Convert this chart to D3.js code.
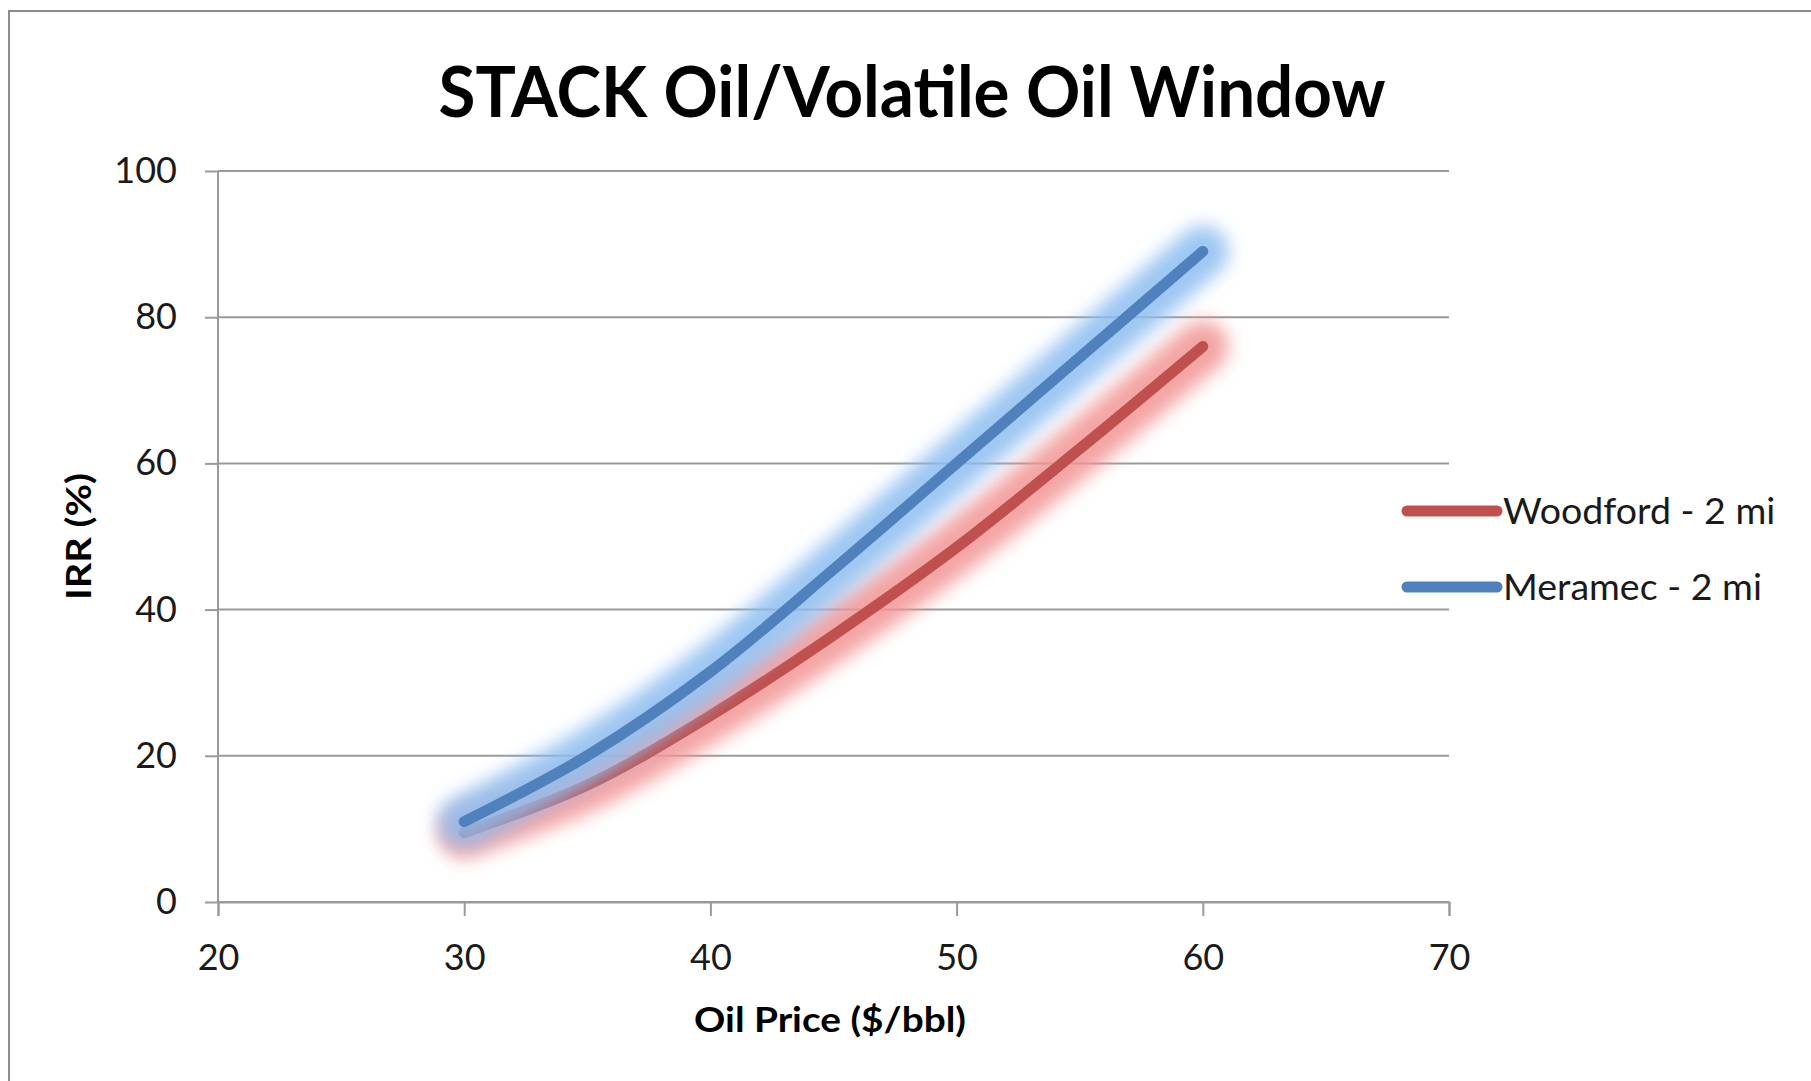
<!DOCTYPE html>
<html>
<head>
<meta charset="utf-8">
<script src="https://cdn.jsdelivr.net/npm/d3@7"></script>
<style>
  body { margin: 0; background: #fff; }
  svg { display: block; font-family: Lato, "Open Sans", sans-serif; }
</style>
</head>
<body>
<div id="viz"></div>
<script>
// data
const prices = [30, 35, 40, 45, 50, 55, 60];
const woodford = [9.5, 16, 25.5, 36.5, 48.5, 62, 76];
const meramec = [11, 20, 31.5, 45.5, 60, 74.5, 89];
const seriesNames = ['Woodford - 2 mi', 'Meramec - 2 mi'];
const xTickValues = [20, 30, 40, 50, 60, 70];
const yTickValues = [0, 20, 40, 60, 80, 100];

const canvasWidth = 1811;
const canvasHeight = 1081;
const margin = { top: 171, right: 362, bottom: 179, left: 218 };
const plotWidth = canvasWidth - margin.left - margin.right;
const plotHeight = canvasHeight - margin.top - margin.bottom;

const colors = { red: '#c0504d', blue: '#4f81bd', redGlow: '#f29494', blueGlow: '#8dbdf0' };

const xScale = d3.scaleLinear().domain([20, 70]).range([0, plotWidth]);
const yScale = d3.scaleLinear().domain([0, 100]).range([plotHeight, 0]);

const chart = d3.select('#viz')
  .append('svg')
  .attr('width', canvasWidth)
  .attr('height', canvasHeight);

const defs = chart.append('defs');
defs.append('filter')
  .attr('id', 'glow')
  .attr('filterUnits', 'userSpaceOnUse')
  .attr('x', -100).attr('y', -100)
  .attr('width', 1500).attr('height', 1100)
  .append('feGaussianBlur')
  .attr('stdDeviation', 9);

// outer frame
chart.append('rect')
  .attr('x', 9).attr('y', 11)
  .attr('width', canvasWidth + 20).attr('height', canvasHeight + 20)
  .attr('fill', 'none')
  .attr('stroke', '#8c8c8c')
  .attr('stroke-width', 2);

chart.append('text')
  .attr('x', 912).attr('y', 117)
  .attr('text-anchor', 'middle')
  .attr('font-size', 70)
  .attr('font-weight', 700)
  .attr('textLength', 947)
  .attr('lengthAdjust', 'spacingAndGlyphs')
  .text('STACK Oil/Volatile Oil Window');

const plot = chart.append('g')
  .attr('transform', `translate(${margin.left}, ${margin.top})`);

// gridlines
plot.append('g')
  .selectAll('line')
  .data(yTickValues)
  .enter().append('line')
    .attr('x1', 0).attr('x2', plotWidth)
    .attr('y1', (d) => yScale(d)).attr('y2', (d) => yScale(d))
    .attr('stroke', '#9a9a9a')
    .attr('stroke-width', 2);

const yAxis = plot.append('g')
  .attr('id', 'y-axis')
  .call(d3.axisLeft(yScale).tickValues(yTickValues).tickSize(13).tickPadding(28));

const xAxis = plot.append('g')
  .attr('id', 'x-axis')
  .attr('transform', `translate(0, ${plotHeight})`)
  .call(d3.axisBottom(xScale).tickValues(xTickValues).tickSize(14).tickPadding(28));

[yAxis, xAxis].forEach((ax) => {
  ax.select('.domain').attr('stroke', '#9a9a9a').attr('stroke-width', 2);
  ax.selectAll('.tick line').attr('stroke', '#9a9a9a').attr('stroke-width', 2);
  ax.selectAll('.tick text')
    .attr('font-family', 'Lato, sans-serif')
    .attr('font-size', 36)
    .attr('fill', '#1a1a1a');
});
yAxis.select('.domain').remove();
yAxis.append('line')
  .attr('x1', 0).attr('x2', 0).attr('y1', 0).attr('y2', plotHeight)
  .attr('stroke', '#9a9a9a').attr('stroke-width', 2);

const line = d3.line()
  .x((d) => xScale(d[0]))
  .y((d) => yScale(d[1]))
  .curve(d3.curveCatmullRom.alpha(0.5));

const series = [
  { name: seriesNames[0], values: woodford, color: colors.red, glow: colors.redGlow },
  { name: seriesNames[1], values: meramec, color: colors.blue, glow: colors.blueGlow }
];

series.forEach((s) => {
  const pts = prices.map((p, i) => [p, s.values[i]]);
  plot.append('path')
    .attr('d', line(pts))
    .attr('fill', 'none')
    .attr('stroke', s.glow)
    .attr('stroke-width', 52)
    .attr('stroke-linecap', 'round')
    .attr('stroke-linejoin', 'round')
    .attr('opacity', 0.85)
    .attr('filter', 'url(#glow)');
  plot.append('path')
    .attr('d', line(pts))
    .attr('fill', 'none')
    .attr('stroke', s.color)
    .attr('stroke-width', 11)
    .attr('stroke-linecap', 'round')
    .attr('stroke-linejoin', 'round');
});

// axis titles
chart.append('text')
  .attr('x', 830).attr('y', 1032)
  .attr('text-anchor', 'middle')
  .attr('font-size', 35)
  .attr('font-weight', 700)
  .attr('textLength', 272)
  .attr('lengthAdjust', 'spacingAndGlyphs')
  .text('Oil Price ($/bbl)');

chart.append('text')
  .attr('transform', `translate(91, ${margin.top + plotHeight / 2}) rotate(-90)`)
  .attr('text-anchor', 'middle')
  .attr('font-size', 35)
  .attr('font-weight', 700)
  .attr('textLength', 127)
  .attr('lengthAdjust', 'spacingAndGlyphs')
  .text('IRR (%)');

// legend
const legend = chart.append('g')
  .attr('transform', 'translate(1407, 511)');

const legendItems = legend.selectAll('g')
  .data(series)
  .enter().append('g')
    .attr('transform', (d, i) => `translate(0, ${i * 76})`);

legendItems.append('line')
  .attr('x1', 0).attr('x2', 90)
  .attr('y1', 0).attr('y2', 0)
  .attr('stroke', (d) => d.color)
  .attr('stroke-width', 11)
  .attr('stroke-linecap', 'round');

legendItems.append('text')
  .attr('x', 96).attr('y', 13)
  .attr('font-size', 37.5)
  .attr('fill', '#1a1a1a')
  .text((d) => d.name);
</script>
</body>
</html>
